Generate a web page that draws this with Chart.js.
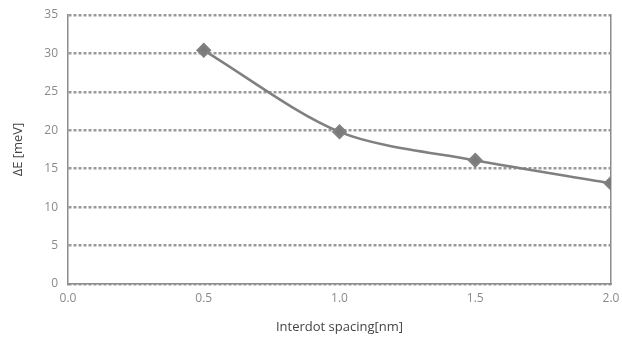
<!DOCTYPE html>
<html><head><meta charset="utf-8">
<script src="https://cdn.jsdelivr.net/npm/chart.js@4/dist/chart.umd.min.js"></script>
<style>html,body{margin:0;padding:0;background:#fff}#wrap{width:622px;height:345px}</style>
</head><body><div id="wrap"><canvas id="c"></canvas></div>
<script>
const spacing = [0.5, 1.0, 1.5, 2.0];
const deltaE = [30.4, 19.8, 16.1, 13.1];
const xTitle = 'Interdot spacing[nm]';
const yTitle = 'ΔE [meV]';

const tickFont = {family: 'Open Sans', size: 12};
new Chart(document.getElementById('c'), {
  type: 'line',
  data: {datasets: [{
    data: spacing.map((x, i) => ({x, y: deltaE[i]})),
    borderColor: '#808080', backgroundColor: '#7a7a7a',
    borderWidth: 2.5, tension: 0.3,
    pointStyle: 'rectRot', pointRadius: 6, pointHoverRadius: 6
  }]},
  options: {
    responsive: true, maintainAspectRatio: false, animation: false,
    layout: {padding: {left: 0, right: 0, top: 15, bottom: 0}},
    plugins: {legend: {display: false}, tooltip: {enabled: false}},
    scales: {
      x: {type: 'linear', min: 0, max: 2,
        ticks: {stepSize: 0.5, color: '#8a8a8a', font: tickFont, padding: 7, callback: v => v.toFixed(1)},
        grid: {display: false, drawTicks: false},
        border: {display: true, color: '#8c8c8c', width: 1.5},
        title: {display: true, text: xTitle, color: '#444', font: {family: 'Open Sans', size: 13}, padding: {top: 4, bottom: 10}},
        afterFit: s => { s.height = 61; s.paddingLeft = 0; s.paddingRight = 0; }
      },
      y: {min: 0, max: 35,
        ticks: {stepSize: 5, color: '#8a8a8a', font: tickFont, padding: 10},
        grid: {color: '#9a9a9a', lineWidth: 2.5, drawTicks: false},
        border: {display: true, color: '#8c8c8c', width: 1.5, dash: [3, 2]},
        title: {display: true, text: yTitle, color: '#444', font: {family: 'Open Sans', size: 13}, padding: {top: 10, bottom: 10}},
        afterFit: s => { s.width = 68; s.paddingTop = 0; s.paddingBottom = 0; }
      },
      y2: {position: 'right', min: 0, max: 35,
        ticks: {display: false}, grid: {display: false, drawTicks: false},
        border: {display: true, color: '#8c8c8c', width: 1.5},
        afterFit: s => { s.width = 11; }
      }
    }
  }
});
</script></body></html>
